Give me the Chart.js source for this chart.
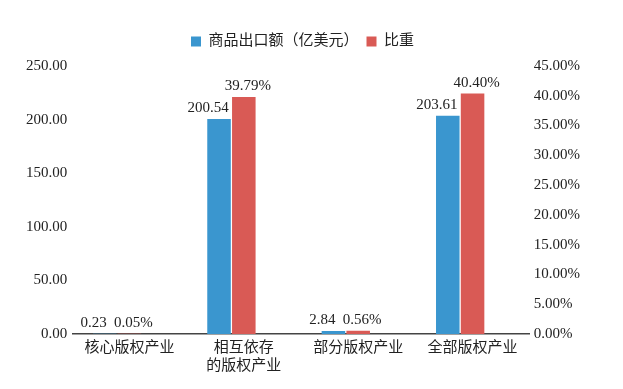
<!DOCTYPE html>
<html>
<head>
<meta charset="utf-8">
<script src="https://cdn.jsdelivr.net/npm/chart.js@4"></script>
<style>
  html, body { margin: 0; padding: 0; background: #ffffff; }
  #wrap { width: 623px; height: 389px; }
</style>
</head>
<body>
<div id="wrap"><canvas id="chart" width="623" height="389"></canvas></div>
<script>
// 数据
const categories = ['核心版权产业', ['相互依存', '的版权产业'], '部分版权产业', '全部版权产业'];
const exportValues = [0.23, 200.54, 2.84, 203.61];   // 商品出口额（亿美元）
const shareValues = [0.05, 39.79, 0.56, 40.40];       // 比重 (%)
const leftTicks = [0, 50, 100, 150, 200, 250];
const rightTicks = [0, 5, 10, 15, 20, 25, 30, 35, 40, 45];

const FONT = '"Liberation Serif", "Noto Sans CJK SC", serif';

// 数据标签
const labelPlugin = {
    id: 'barLabels',
    afterDatasetsDraw(chart) {
        const ctx = chart.ctx;
        ctx.save();
        ctx.font = '15px ' + FONT;
        ctx.fillStyle = '#222';
        ctx.textAlign = 'center';
        ctx.textBaseline = 'bottom';
        [0, 1].forEach((i) => {
            const ds = chart.data.datasets[i];
            const meta = chart.getDatasetMeta(i);
            meta.data.forEach((bar, j) => {
                const txt = i === 0 ? ds.data[j].toFixed(2) : ds.data[j].toFixed(2) + '%';
                const dx = i === 0 ? -11 : 4;
                ctx.fillText(txt, bar.x + dx, bar.y - 3);
            });
        });
        ctx.restore();
    }
};

// 图例下方多留一点空白
const legendGap = {
    id: 'legendGap',
    beforeLayout(chart) {
        const lg = chart.legend;
        if (lg && !lg._gapPatched) {
            const fit = lg.fit;
            lg.fit = function () {
                fit.call(this);
                this.height += 7;
            };
            lg._gapPatched = true;
        }
    }
};

new Chart(document.getElementById('chart'), {
    type: 'bar',
    data: {
        labels: categories,
        datasets: [
            {
                label: '商品出口额（亿美元）',
                data: exportValues,
                backgroundColor: '#3a96cf',
                yAxisID: 'y'
            },
            {
                label: '比重',
                data: shareValues,
                backgroundColor: '#d95a55',
                yAxisID: 'y1'
            },
            {
                // 空白占位系列（原图柱组偏左）
                label: '',
                data: [null, null, null, null],
                backgroundColor: 'rgba(0,0,0,0)',
                yAxisID: 'y'
            }
        ]
    },
    options: {
        responsive: false,
        animation: false,
        categoryPercentage: 0.65,
        barPercentage: 0.95,
        layout: { padding: { top: 26, left: 21, right: 39, bottom: 9 } },
        plugins: {
            legend: {
                position: 'top',
                labels: {
                    boxWidth: 10,
                    boxHeight: 10,
                    color: '#222',
                    font: { size: 15, family: FONT },
                    padding: 8,
                    filter: (item) => item.text !== ''
                }
            },
            tooltip: { enabled: false }
        },
        scales: {
            x: {
                grid: { display: false, drawTicks: false },
                border: { color: '#444', width: 1.5 },
                ticks: {
                    color: '#222',
                    font: { size: 15, family: FONT },
                    maxRotation: 0,
                    autoSkip: false,
                    padding: 5
                }
            },
            y: {
                position: 'left',
                min: 0,
                max: 250,
                afterBuildTicks: (axis) => { axis.ticks = leftTicks.map(v => ({ value: v })); },
                grid: { display: false, drawTicks: false },
                border: { display: false },
                ticks: {
                    color: '#222',
                    font: { size: 15, family: FONT },
                    padding: 5,
                    callback: (v) => Number(v).toFixed(2)
                }
            },
            y1: {
                position: 'right',
                min: 0,
                max: 45,
                afterBuildTicks: (axis) => { axis.ticks = rightTicks.map(v => ({ value: v })); },
                grid: { display: false, drawTicks: false },
                border: { display: false },
                ticks: {
                    color: '#222',
                    font: { size: 15, family: FONT },
                    padding: 4,
                    callback: (v) => Number(v).toFixed(2) + '%'
                }
            }
        }
    },
    plugins: [labelPlugin, legendGap]
});
</script>
</body>
</html>
